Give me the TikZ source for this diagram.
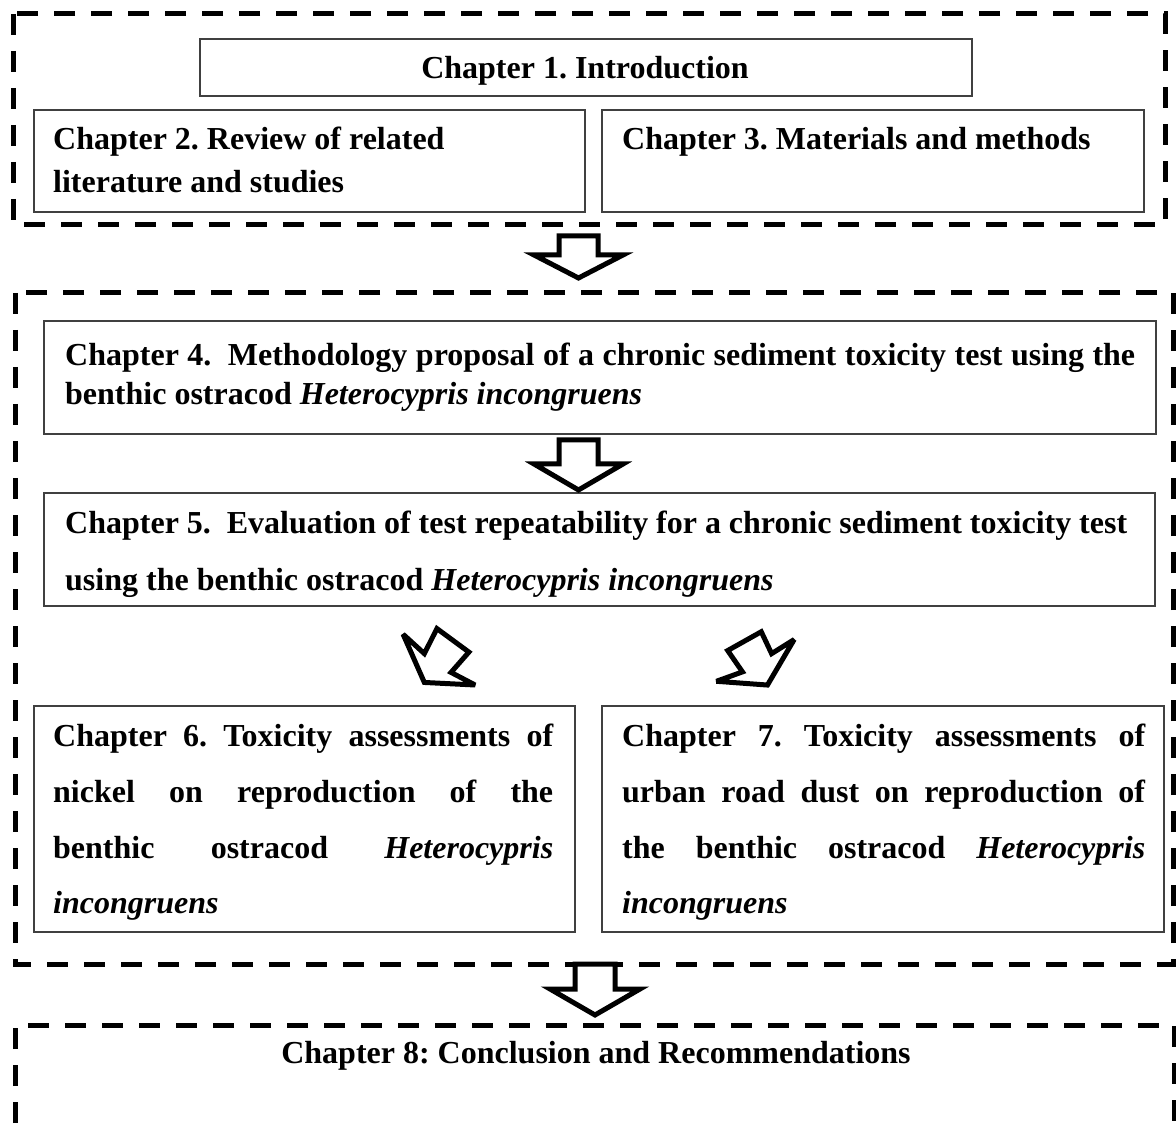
\documentclass[tikz,border=0pt]{standalone}
\usepackage{fontspec}
\setmainfont{Liberation Serif}
\frenchspacing
\begin{document}
\begin{tikzpicture}[x=1pt,y=-1pt,
  frame/.style={line width=5pt, dash pattern=on 21pt off 16pt},
  chbox/.style={draw=black!75, line width=1.8pt, anchor=north west, inner sep=0pt},
  blockarrow/.style={draw=black, line width=5pt, fill=white, line join=miter, miter limit=10},
  diagarrow/.style={blockarrow, miter limit=4},
  txt/.style={anchor=base west, inner sep=0pt, font=\fontsize{32}{32}\selectfont\bfseries}]
\useasboundingbox (0,0) rectangle (1176,1131);
% dashed frames
\draw[frame] (13,14) rectangle (1165,225);
\draw[frame] (15,293) rectangle (1173,964);
\draw[frame] (15,1160) -- (15,1025) -- (1174,1025) -- (1174,1160);
% chapter boxes
\node[chbox, minimum width=772pt, minimum height=57pt] (c1) at (199,38) {};
\node[chbox, minimum width=551pt, minimum height=102pt] (c2) at (33,109) {};
\node[chbox, minimum width=542pt, minimum height=102pt] (c3) at (601,109) {};
\node[chbox, minimum width=1112pt, minimum height=113pt] (c4) at (43,320) {};
\node[chbox, minimum width=1111pt, minimum height=113pt] (c5) at (43,492) {};
\node[chbox, minimum width=541pt, minimum height=226pt] (c6) at (33,705) {};
\node[chbox, minimum width=562pt, minimum height=226pt] (c7) at (601,705) {};
% texts
\node[txt, anchor=base] (t1) at (585,79) {Chapter 1. Introduction};
\node[txt] (t2a) at (53,150) {Chapter 2. Review of related};
\node[txt] (t2b) at (53,193) {literature and studies};
\node[txt] (t3) at (622,150) {Chapter 3. Materials and methods};
\node[txt] (t4a) at (65,366) {\makebox[1070pt][s]{Chapter 4.\hspace{8pt} Methodology proposal of a chronic sediment toxicity test using the}};
\node[txt] (t4b) at (65,405) {benthic ostracod \textit{Heterocypris incongruens}};
\node[txt] (t5a) at (65,533) {\makebox[1062pt][s]{Chapter 5.\hspace{8pt} Evaluation of test repeatability for a chronic sediment toxicity test}};
\node[txt] (t5b) at (65,590) {using the benthic ostracod \textit{Heterocypris incongruens}};
\node[txt] (t6a) at (53,746) {\makebox[500pt][s]{Chapter 6. Toxicity assessments of}};
\node[txt] (t6b) at (53,802) {\makebox[500pt][s]{nickel on reproduction of the}};
\node[txt] (t6c) at (53,858) {\makebox[500pt][s]{benthic ostracod \textit{Heterocypris}}};
\node[txt] (t6d) at (53,913) {\textit{incongruens}};
\node[txt] (t7a) at (622,746) {\makebox[523pt][s]{Chapter 7. Toxicity assessments of}};
\node[txt] (t7b) at (622,802) {\makebox[523pt][s]{urban road dust on reproduction of}};
\node[txt] (t7c) at (622,858) {\makebox[523pt][s]{the benthic ostracod \textit{Heterocypris}}};
\node[txt] (t7d) at (622,913) {\textit{incongruens}};
\node[txt, anchor=base] (t8) at (596,1063) {Chapter 8: Conclusion and Recommendations};
% block arrows
\draw[blockarrow] (559,236) -- (598,236) -- (598,255) -- (623,255) -- (578.5,278) -- (534,255) -- (559,255) -- cycle;
\draw[blockarrow] (559,440) -- (598,440) -- (598,464) -- (623,464) -- (578.5,490) -- (534,464) -- (559,464) -- cycle;
\draw[blockarrow] (575,964) -- (615,964) -- (615,989) -- (640,989) -- (595,1015) -- (550,989) -- (575,989) -- cycle;
\draw[diagarrow, scale around={0.94:(440.5,658.3)}] (423.3,684) -- (400.7,632.7) -- (423.3,653.3) -- (436.7,626.7) -- (470.7,651.7) -- (451.7,673.3) -- (477.3,686.7) -- cycle;
\draw[diagarrow, scale around={0.94:(754.4,659.1)}] (768.3,686.7) -- (714,682.7) -- (741.7,672.7) -- (726,650) -- (761.7,630) -- (772.7,653.3) -- (796.7,638.3) -- cycle;
\end{tikzpicture}
\end{document}
